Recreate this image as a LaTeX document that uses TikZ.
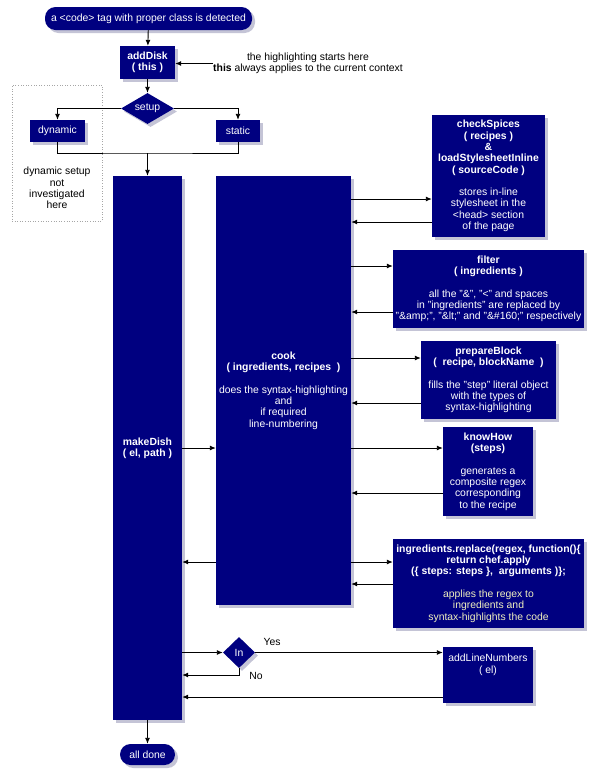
\documentclass[tikz,border=0pt]{standalone}
\usepackage{fontspec}
\setmainfont{Liberation Sans}
\usetikzlibrary{shapes.geometric,arrows.meta,shadows}
\definecolor{navy}{RGB}{0,0,128}
\definecolor{shadowcol}{RGB}{196,196,214}
\definecolor{descyellow}{RGB}{240,240,190}
\newcommand{\bl}[1]{\textbf{#1}}
\newcommand{\yl}[1]{\textcolor{descyellow}{#1}}
\begin{document}
\begin{tikzpicture}[x=1pt,y=-1pt,
  every node/.style={font=\fontsize{10.4}{11.3}\selectfont},
  shad/.style={drop shadow={shadow xshift=3pt,shadow yshift=-3pt,fill=shadowcol,opacity=1}},
  blk/.style={fill=navy,text=white,align=center,inner sep=0pt,shad},
  pill/.style={blk,rounded corners=10.5pt},
  dia/.style={blk,diamond,aspect=1.6},
  con/.style={draw=black,line width=0.9pt},
  arr/.style={con,-{Latex[length=6pt,width=5pt]}},
  plain/.style={align=center,inner sep=0pt,text=black}]
\useasboundingbox (0,0) rectangle (590,772);
\fill[white] (0,0) rectangle (590,772);

% dotted area
\node[draw=gray!70,dotted,line width=0.6pt,minimum width=90pt,minimum height=136pt,inner sep=0pt] (dynarea) at (57,153) {};

\node[pill,minimum width=207pt,minimum height=23pt] (start) at (148.5,18.5) {a <code> tag with proper class is detected};
\node[blk,minimum width=55pt,minimum height=33pt] (addDisk) at (147.5,62.5) {\bl{addDisk}\\\bl{( this )}};
\node[plain,anchor=west] (note) at (213,63.5) {the highlighting starts here\\\textbf{this} always applies to the current context};
\node[dia,minimum width=53pt,minimum height=31pt] (setup) at (147.5,108.5) {setup};
\node[blk,minimum width=55pt,minimum height=22pt] (dynamic) at (57.5,131) {dynamic};
\node[blk,minimum width=44pt,minimum height=22pt] (static) at (238,131) {static};
\node[plain] (dynnote) at (57,188) {dynamic setup\\not\\investigated\\here};
\coordinate (join) at (147.5,153);

\node[blk,minimum width=69pt,minimum height=544pt] (makeDish) at (147.5,448) {\bl{makeDish}\\\bl{( el, path )}};
\node[blk,minimum width=135pt,minimum height=429pt] (cook) at (283.5,390.5) {\bl{cook}\\\bl{( ingredients, recipes~~)}\\[11.3pt]does the syntax-highlighting\\and\\if required\\line-numbering};

\node[blk,minimum width=113pt,minimum height=122pt] (check) at (488.5,176) {\bl{checkSpices}\\\bl{( recipes )}\\\bl{\&}\\\bl{loadStylesheetInline}\\\bl{( sourceCode )}\\[11.3pt]stores in-line\\stylesheet in the\\<head> section\\of the page};
\node[blk,minimum width=191pt,minimum height=78pt] (filter) at (488.5,289) {\bl{filter}\\\bl{( ingredients )}\\[11.3pt]all the "\&", "<" and spaces\\in "ingredients" are replaced by\\"\&amp;", "\&lt;" and "\&\#160;" respectively};
\node[blk,minimum width=135pt,minimum height=78pt] (prepare) at (488.5,380) {\bl{prepareBlock}\\\bl{(~~recipe, blockName~~)}\\[11.3pt]fills the "step" literal object\\with the types of\\syntax-highlighting};
\node[blk,minimum width=90pt,minimum height=89pt] (knowHow) at (488,471.5) {\bl{knowHow}\\\bl{(steps)}\\[11.3pt]generates a\\composite regex\\corresponding\\to the recipe};
\node[blk,minimum width=191pt,minimum height=89pt] (replace) at (488.5,583.5) {\bl{ingredients.replace(regex, function()\{}\\\bl{return chef.apply}\\\bl{(\{ steps: steps \},~~arguments )\};}\\[11.3pt]\yl{applies the regex to}\\\yl{ingredients and}\\\yl{syntax-highlights the code}};

\node[dia,minimum width=32pt,minimum height=31pt] (in) at (239,652.5) {In};
\node[blk,minimum width=90pt,minimum height=56pt] (addLN) at (488,675) {addLineNumbers\\( el)\\\mbox{}\\\mbox{}};
\node[plain] (yes) at (272,642) {Yes};
\node[plain] (no) at (256,676) {No};
\node[pill,minimum width=55pt,minimum height=21pt] (done) at (147.5,754.5) {all done};

% connectors
\draw[arr] (start) -- (addDisk);
\draw[arr] (note.west) -- (note.west -| addDisk.east);
\draw[arr] (addDisk) -- (setup);
\draw[arr] (setup.west) -| (dynamic.north);
\draw[arr] (setup.east) -| (static.north);
\draw[con] (dynamic.south) |- (join) -| (static.south);
\draw[arr] (join) -- (makeDish.north);
\draw[arr] (makeDish.east) -- (makeDish.east -| cook.west);

\draw[arr] (cook.east |- 0,199) -- (check.west |- 0,199);
\draw[arr] (check.west |- 0,222) -- (cook.east |- 0,222);
\draw[arr] (cook.east |- 0,266) -- (filter.west |- 0,266);
\draw[arr] (filter.west |- 0,312) -- (cook.east |- 0,312);
\draw[arr] (cook.east |- 0,358) -- (prepare.west |- 0,358);
\draw[arr] (prepare.west |- 0,403) -- (cook.east |- 0,403);
\draw[arr] (cook.east |- 0,448) -- (knowHow.west |- 0,448);
\draw[arr] (knowHow.west |- 0,493) -- (cook.east |- 0,493);
\draw[arr] (cook.east |- 0,562) -- (replace.west |- 0,562);
\draw[arr] (replace.west |- 0,584) -- (cook.east |- 0,584);
\draw[arr] (cook.west |- 0,562) -- (makeDish.east |- 0,562);

\draw[arr] (makeDish.east |- in) -- (in.west);
\draw[arr] (in.east) -- (in.east -| addLN.west);
\draw[arr] (in.south) |- (makeDish.east |- 0,675);
\draw[arr] (addLN.west |- 0,697) -- (makeDish.east |- 0,697);
\draw[arr] (makeDish.south) -- (done.north);
\end{tikzpicture}
\end{document}
